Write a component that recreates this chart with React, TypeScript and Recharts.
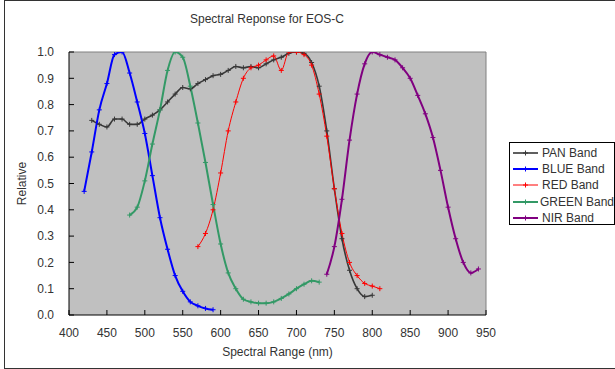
import React from 'react';
import { LineChart, Line, XAxis, YAxis, CartesianGrid, Legend, ReferenceLine } from 'recharts';

const FONT = "'Liberation Sans', Arial, sans-serif";

const panNm = [430, 440, 450, 460, 470, 480, 490, 500, 510, 520, 530, 540, 550, 560, 570, 580, 590, 600, 610, 620, 630, 640, 650, 660, 670, 680, 690, 700, 710, 720, 730, 740, 750, 760, 770, 780, 790, 800];
const panVal = [0.74, 0.725, 0.715, 0.745, 0.745, 0.725, 0.725, 0.745, 0.76, 0.78, 0.81, 0.84, 0.865, 0.86, 0.88, 0.895, 0.91, 0.915, 0.93, 0.945, 0.94, 0.945, 0.94, 0.955, 0.97, 0.98, 0.995, 1.0, 0.995, 0.96, 0.87, 0.7, 0.48, 0.29, 0.17, 0.1, 0.07, 0.075];

const blueNm = [420, 430, 440, 450, 460, 470, 480, 490, 500, 510, 520, 530, 540, 550, 560, 570, 580, 590];
const blueVal = [0.47, 0.62, 0.78, 0.88, 0.99, 1.0, 0.92, 0.81, 0.69, 0.53, 0.37, 0.25, 0.15, 0.09, 0.05, 0.035, 0.025, 0.02];

const redNm = [570, 580, 590, 600, 610, 620, 630, 640, 650, 660, 670, 680, 690, 700, 710, 720, 730, 740, 750, 760, 770, 780, 790, 800, 810];
const redVal = [0.26, 0.31, 0.4, 0.54, 0.7, 0.81, 0.9, 0.94, 0.95, 0.97, 0.985, 0.93, 1.0, 1.0, 0.99, 0.95, 0.84, 0.68, 0.48, 0.31, 0.2, 0.15, 0.12, 0.11, 0.1];

const greenNm = [480, 490, 500, 510, 520, 530, 540, 550, 560, 570, 580, 590, 600, 610, 620, 630, 640, 650, 660, 670, 680, 690, 700, 710, 720, 730];
const greenVal = [0.38, 0.41, 0.51, 0.65, 0.78, 0.93, 1.0, 0.98, 0.87, 0.73, 0.58, 0.42, 0.27, 0.16, 0.1, 0.06, 0.05, 0.045, 0.045, 0.05, 0.063, 0.08, 0.1, 0.117, 0.13, 0.125];

const nirNm = [740, 750, 760, 770, 780, 790, 800, 810, 820, 830, 840, 850, 860, 870, 880, 890, 900, 910, 920, 930, 940];
const nirVal = [0.155, 0.26, 0.44, 0.665, 0.84, 0.955, 1.0, 0.99, 0.98, 0.97, 0.94, 0.9, 0.835, 0.765, 0.675, 0.55, 0.41, 0.29, 0.2, 0.16, 0.175];

const xTicks = [400, 450, 500, 550, 600, 650, 700, 750, 800, 850, 900, 950];
const yTicks = [0, 0.1, 0.2, 0.3, 0.4, 0.5, 0.6, 0.7, 0.8, 0.9, 1.0];

const toPoints = (nm: number[], val: number[]) => nm.map((x, i) => ({ x, y: val[i] }));

const series = [
  { name: 'PAN Band', color: '#383838', width: 1.6, data: toPoints(panNm, panVal) },
  { name: 'BLUE Band', color: '#0000FF', width: 2, data: toPoints(blueNm, blueVal) },
  { name: 'RED Band', color: '#FF0000', width: 1, data: toPoints(redNm, redVal) },
  { name: 'GREEN Band', color: '#339966', width: 2, data: toPoints(greenNm, greenVal) },
  { name: 'NIR Band', color: '#800080', width: 2, data: toPoints(nirNm, nirVal) },
];

const plusDot = (color: string) => (props: any) => {
  const { cx, cy, index } = props;
  if (cx == null || cy == null) return <g key={index} />;
  return (
    <path
      key={index}
      d={`M${cx - 2.5},${cy}H${cx + 2.5}M${cx},${cy - 2.5}V${cy + 2.5}`}
      stroke={color}
      strokeWidth={1}
      fill="none"
    />
  );
};

const LegendBox = () => (
  <div
    style={{
      border: '1px solid #000',
      background: '#fff',
      width: 106,
      height: 83,
      boxSizing: 'border-box',
      paddingTop: 2,
      fontFamily: FONT,
      fontSize: 12,
      color: '#333',
    }}
  >
    {series.map((s) => (
      <div key={s.name} style={{ display: 'flex', alignItems: 'center', height: 16.2 }}>
        <svg width={30} height={10} style={{ display: 'block' }}>
          <line x1={3} y1={5} x2={28} y2={5} stroke={s.color} strokeWidth={s.width} />
          <path d="M15.5,2.5V7.5M13,5H18" stroke={s.color} strokeWidth={1} />
        </svg>
        <span style={{ marginLeft: 2, whiteSpace: 'nowrap' }}>{s.name}</span>
      </div>
    ))}
  </div>
);

export default function App() {
  return (
    <div style={{ position: 'absolute', left: 0, top: 0, width: 615, height: 369, overflow: 'hidden', background: '#fff' }}>
      <div
        style={{
          position: 'absolute',
          left: 4,
          top: 0,
          width: 640,
          height: 369,
          border: '1px solid #333',
          boxSizing: 'border-box',
        }}
      />
      <div
        style={{
          position: 'absolute',
          left: 0,
          top: 12,
          width: 534,
          textAlign: 'center',
          fontFamily: FONT,
          fontSize: 12,
          lineHeight: '14px',
          color: '#333',
        }}
      >
        Spectral Reponse for EOS-C
      </div>
      <div style={{ position: 'absolute', left: 0, top: 0 }}>
        <LineChart width={615} height={369} margin={{ top: 52, right: 129, bottom: 12, left: 0 }}>
          <CartesianGrid fill="#C0C0C0" horizontal={false} vertical={false} />
          <XAxis
            type="number"
            dataKey="x"
            domain={[400, 950]}
            ticks={xTicks}
            allowDataOverflow
            height={42}
            tickSize={-5}
            tickMargin={18}
            stroke="#000"
            tickLine={{ stroke: '#000' }}
            axisLine={{ stroke: '#000' }}
            tick={{ fill: '#333', fontSize: 12, fontFamily: FONT }}
            label={{ value: 'Spectral Range (nm)', position: 'insideBottom', offset: 1, fill: '#333', fontSize: 12, fontFamily: FONT }}
          />
          <YAxis
            type="number"
            dataKey="y"
            domain={[0, 1]}
            ticks={yTicks}
            allowDataOverflow
            width={69}
            tickSize={-5}
            tickMargin={20}
            stroke="#000"
            tickLine={{ stroke: '#000' }}
            axisLine={{ stroke: '#000' }}
            tickFormatter={(v: number) => v.toFixed(1)}
            tick={{ fill: '#333', fontSize: 12, fontFamily: FONT }}
            label={{
              value: 'Relative',
              angle: -90,
              position: 'insideLeft',
              offset: 22,
              fill: '#333',
              fontSize: 12,
              fontFamily: FONT,
              style: { textAnchor: 'middle' },
            }}
          />
          <ReferenceLine y={1} stroke="#808080" strokeWidth={1} />
          <ReferenceLine x={950} stroke="#808080" strokeWidth={1} />
          {series.map((s) => (
            <Line
              key={s.name}
              data={s.data}
              dataKey="y"
              name={s.name}
              type="monotone"
              stroke={s.color}
              strokeWidth={s.width}
              dot={plusDot(s.color)}
              activeDot={false}
              isAnimationActive={false}
            />
          ))}
          <Legend
            layout="vertical"
            align="center"
            verticalAlign="middle"
            content={() => <LegendBox />}
            wrapperStyle={{ left: 509, top: 142, width: 106, height: 83 }}
          />
        </LineChart>
      </div>
    </div>
  );
}
